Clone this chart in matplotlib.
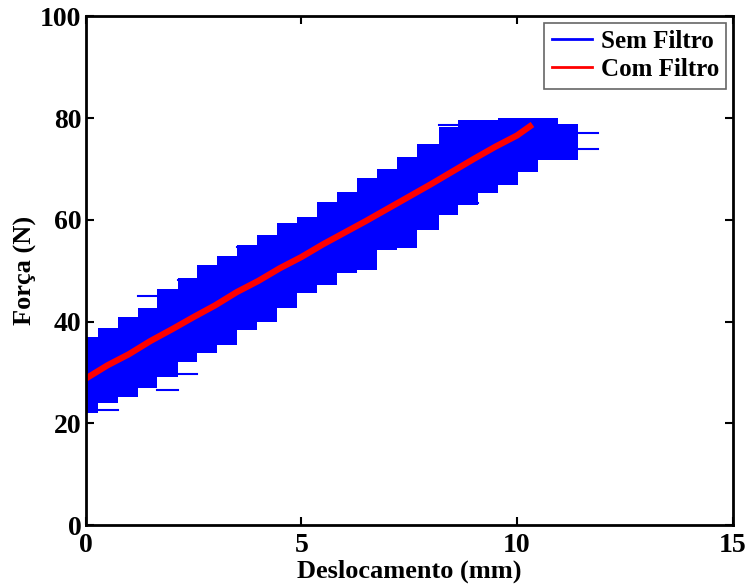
import matplotlib.pyplot as plt
import numpy as np

plt.rcParams['font.family'] = ['Liberation Serif', 'DejaVu Serif']
plt.rcParams['font.weight'] = 'bold'

# Unfiltered signal envelope, read from the picture as steps along displacement
# step edges in mm, upper and lower force of the band in each step (N)
step_edges = [-0.5, 0.28, 0.74, 1.20, 1.66, 2.13, 2.59, 3.05, 3.51, 3.97, 4.44,
              4.90, 5.36, 5.82, 6.29, 6.75, 7.21, 7.67, 8.18, 8.64, 9.10,
              9.57, 10.03, 10.49, 10.95, 11.42]
band_upper = [37.0, 38.7, 40.9, 42.6, 46.5, 48.5, 51.1, 53.0, 55.0, 57.0,
              59.3, 60.5, 63.5, 65.4, 68.2, 70.1, 72.3, 75.0, 78.2, 79.6,
              79.7, 80.0, 80.0, 80.0, 78.8]
band_lower = [22.0, 24.0, 25.2, 26.9, 29.1, 32.0, 33.8, 35.4, 38.3, 40.0,
              42.6, 45.6, 47.2, 49.5, 50.1, 54.0, 54.4, 58.0, 61.0, 62.9,
              65.2, 66.8, 69.4, 71.7, 71.7]

# loose horizontal streaks of the unfiltered signal: force, x start, x end
streak_force = [22.6, 26.6, 29.8, 45.0, 48.2, 54.6, 63.3, 73.9, 77.0, 78.6]
streak_x0 = [0.28, 1.66, 2.13, 1.20, 2.13, 3.51, 8.64, 10.95, 11.42, 8.18]
streak_x1 = [0.74, 2.13, 2.59, 1.66, 2.59, 3.97, 9.10, 11.88, 11.88, 8.64]

# Filtered signal
filt_disp = [0.0, 0.5, 1.0, 1.5, 2.0, 2.5, 3.0, 3.5, 4.0, 4.5, 5.0, 5.5,
             6.0, 6.5, 7.0, 7.5, 8.0, 8.5, 9.0, 9.5, 10.0, 10.3]
filt_force = [28.8, 31.4, 33.6, 36.2, 38.5, 40.9, 43.2, 45.8, 48.0, 50.5,
              52.7, 55.2, 57.5, 59.8, 62.2, 64.6, 67.0, 69.5, 72.0, 74.4,
              76.6, 78.4]

fig = plt.figure(figsize=(7.46, 5.88), dpi=100)
ax = fig.add_axes([0.115, 0.107, 0.867, 0.865])

# band polygon built from the step arrays
xs, ys_up, ys_lo = [], [], []
for i in range(len(band_upper)):
    xs += [step_edges[i], step_edges[i + 1]]
    ys_up += [band_upper[i], band_upper[i]]
    ys_lo += [band_lower[i], band_lower[i]]
ax.fill_between(xs, ys_lo, ys_up, color='blue', lw=0)

sx, sy = [], []
for f, a, b in zip(streak_force, streak_x0, streak_x1):
    sx += [a, b, np.nan]
    sy += [f, f, np.nan]
ax.plot(sx, sy, color='blue', lw=1.5, label='Sem Filtro')

ax.plot(filt_disp, filt_force, color='red', lw=4.5, label='Com Filtro')

ax.set_xlim(0, 15)
ax.set_ylim(0, 100)
ax.set_xticks([0, 5, 10, 15])
ax.set_yticks([0, 20, 40, 60, 80, 100])
ax.tick_params(direction='in', top=True, right=True, length=6, width=1.5,
               labelsize=20)
ax.tick_params(axis='x', pad=6)
ax.tick_params(axis='y', pad=3)
for s in ax.spines.values():
    s.set_linewidth(2)

ax.set_xlabel('Deslocamento (mm)', fontsize=19, fontweight='bold', labelpad=1)
ax.set_ylabel('Força (N)', fontsize=19, fontweight='bold', labelpad=2)

leg = ax.legend(loc='upper right', fontsize=18, fancybox=False, framealpha=1,
                edgecolor='0.4', borderpad=0.3, handlelength=1.6,
                handletextpad=0.35, labelspacing=0.2, borderaxespad=0.25)
leg.get_frame().set_linewidth(1.2)
for h in leg.get_lines():
    h.set_linewidth(2)

fig.savefig('out.png', dpi=100)
